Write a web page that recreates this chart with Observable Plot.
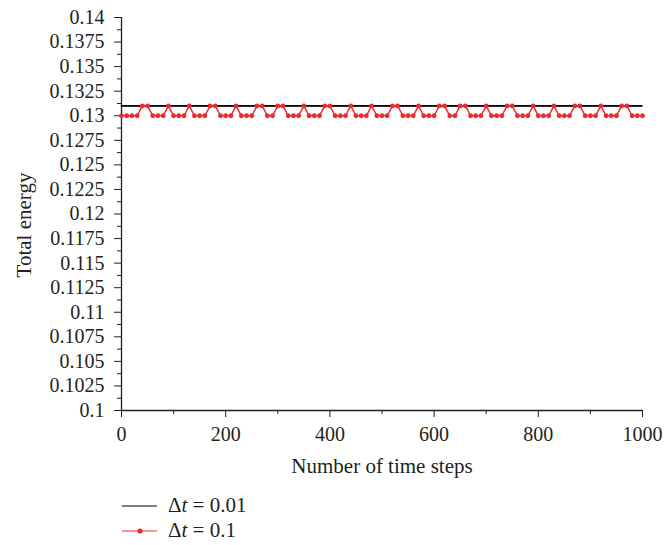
<!DOCTYPE html>
<html>
<head>
<meta charset="utf-8">
<script src="https://cdn.jsdelivr.net/npm/d3@7"></script>
<script src="https://cdn.jsdelivr.net/npm/@observablehq/plot@0.6"></script>
<style>
  html, body { margin: 0; padding: 0; background: white; }
  #wrap { width: 664px; height: 545px; position: relative; font-family: "Liberation Serif", serif; color: #231f20; }
  .leg { position: absolute; left: 122px; font-size: 21px; display: flex; align-items: center; }
  .leg svg { margin-right: 10px; }
</style>
</head>
<body>
<div id="wrap"></div>
<script>
// Data
const steps = [0,10,20,30,40,50,60,70,80,90,100,110,120,130,140,150,160,170,180,190,200,
  210,220,230,240,250,260,270,280,290,300,310,320,330,340,350,360,370,380,390,400,
  410,420,430,440,450,460,470,480,490,500,510,520,530,540,550,560,570,580,590,600,
  610,620,630,640,650,660,670,680,690,700,710,720,730,740,750,760,770,780,790,800,
  810,820,830,840,850,860,870,880,890,900,910,920,930,940,950,960,970,980,990,1000];
const energyDt01 = [
  0.130,0.130,0.130,0.130,0.131,0.131,0.130,0.130,0.130,0.131,
  0.130,0.130,0.130,0.131,0.130,0.130,0.130,0.131,0.131,0.130,
  0.130,0.130,0.131,0.130,0.130,0.130,0.131,0.131,0.130,0.130,
  0.131,0.131,0.130,0.130,0.130,0.131,0.130,0.130,0.130,0.131,
  0.131,0.130,0.130,0.130,0.131,0.130,0.130,0.130,0.131,0.130,
  0.130,0.130,0.131,0.131,0.130,0.130,0.130,0.131,0.130,0.130,
  0.130,0.131,0.131,0.130,0.130,0.131,0.131,0.130,0.130,0.130,
  0.131,0.130,0.130,0.130,0.131,0.131,0.130,0.130,0.130,0.131,
  0.130,0.130,0.130,0.131,0.130,0.130,0.130,0.131,0.131,0.130,
  0.130,0.130,0.131,0.130,0.130,0.130,0.131,0.131,0.130,0.130,
  0.130];
const stepsDt001 = [0, 1000];
const energyDt001 = [0.131, 0.131];

const yTicks = [0.1,0.1025,0.105,0.1075,0.11,0.1125,0.115,0.1175,0.12,0.1225,0.125,0.1275,0.13,0.1325,0.135,0.1375,0.14];
const yTickLabels = ["0.1","0.1025","0.105","0.1075","0.11","0.1125","0.115","0.1175","0.12","0.1225","0.125","0.1275","0.13","0.1325","0.135","0.1375","0.14"];
const yMinorTicks = [0.10125,0.10375,0.10625,0.10875,0.11125,0.11375,0.11625,0.11875,0.12125,0.12375,0.12625,0.12875,0.13125,0.13375,0.13625,0.13875];
const xTicks = [0,200,400,600,800,1000];
const xTickLabels = ["0","200","400","600","800","1000"];
const xMinorTicks = [100,300,500,700,900];

const red = "#ee2a2f";
const ink = "#231f20";
const fs = 20;

const redData = steps.map((s, i) => ({step: s, e: energyDt01[i]}));
const blackData = stepsDt001.map((s, i) => ({step: s, e: energyDt001[i]}));

const chart = Plot.plot({
  width: 664,
  height: 480,
  marginLeft: 121,
  marginRight: 22,
  marginTop: 17,
  marginBottom: 70,
  style: { fontFamily: "Liberation Serif, serif", fontSize: fs + "px", color: ink, background: "white" },
  x: { domain: [0, 1000] },
  y: { domain: [0.1, 0.14] },
  marks: [
    Plot.axisY(yTicks, { tickSize: 7, text: null, label: null, stroke: ink }),
    Plot.text(yTicks, { y: d => d, text: (d, i) => yTickLabels[i], frameAnchor: "left", textAnchor: "end",
      dx: -17, fill: ink, fontSize: fs }),
    Plot.text(["Total energy"], { frameAnchor: "left", rotate: -90, dx: -97, dy: 11, textAnchor: "middle",
      lineAnchor: "middle", fill: ink, fontSize: 21 }),
    Plot.axisY(yMinorTicks, { tickSize: 4, text: null, label: null, stroke: ink }),
    Plot.axisX(xTicks, { tickSize: 7, tickPadding: 9, fontSize: fs, tickFormat: (d, i) => xTickLabels[i],
      label: null, stroke: ink, fill: ink }),
    Plot.text(["Number of time steps"], { frameAnchor: "bottom", dy: 56, textAnchor: "middle",
      lineAnchor: "middle", fill: ink, fontSize: 21 }),
    Plot.axisX(xMinorTicks, { tickSize: 4, text: null, label: null, stroke: ink }),
    Plot.ruleX([0], { stroke: ink, strokeWidth: 1.3 }),
    Plot.ruleY([0.1], { stroke: ink, strokeWidth: 1.3 }),
    Plot.line(blackData, { x: "step", y: "e", stroke: "#444", strokeWidth: 1 }),
    Plot.line(blackData, { x: "step", y: "e", stroke: "black", strokeWidth: 1.7, strokeDasharray: "2,1.5" }),
    Plot.line(redData, { x: "step", y: "e", stroke: red, strokeWidth: 1.5 }),
    Plot.dot(redData, { x: "step", y: "e", fill: red, r: 2.4, stroke: "none" })
  ]
});

const wrap = document.getElementById("wrap");
wrap.appendChild(chart);

const leg1 = document.createElement("div");
leg1.className = "leg";
leg1.style.top = "493px";
leg1.innerHTML = `<svg width="36" height="24"><line x1="0" x2="35" y1="12" y2="12" stroke="black" stroke-width="1.2"/></svg><span>&Delta;<i>t</i> = 0.01</span>`;
wrap.appendChild(leg1);

const leg2 = document.createElement("div");
leg2.className = "leg";
leg2.style.top = "518px";
leg2.innerHTML = `<svg width="36" height="24"><line x1="0" x2="35" y1="12" y2="12" stroke="${red}" stroke-width="1.2"/><circle cx="18" cy="12" r="2.6" fill="${red}"/></svg><span>&Delta;<i>t</i> = 0.1</span>`;
wrap.appendChild(leg2);
</script>
</body>
</html>
